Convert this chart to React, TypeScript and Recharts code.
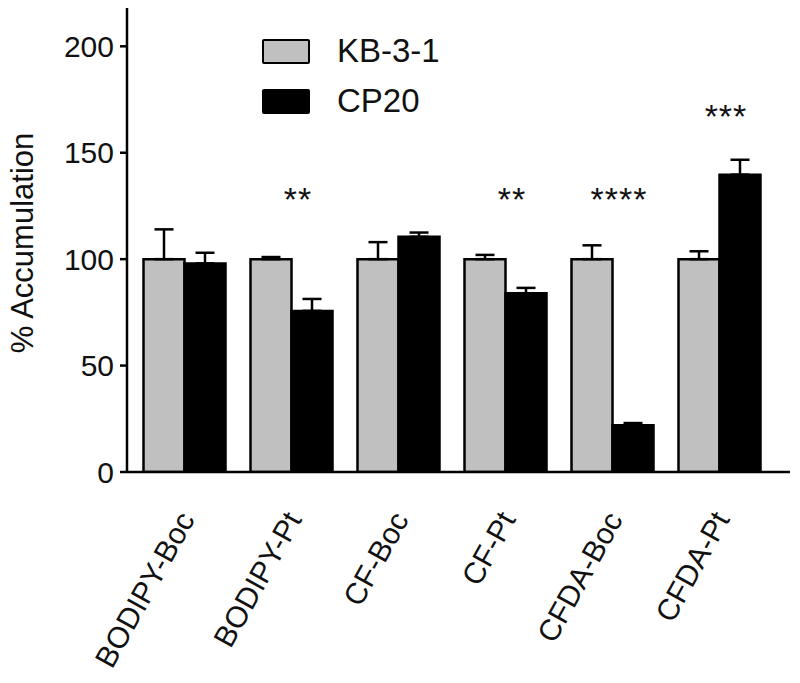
import { ComposedChart, Bar, XAxis, YAxis, ErrorBar, ReferenceDot } from 'recharts'

const probes = ['BODIPY-Boc', 'BODIPY-Pt', 'CF-Boc', 'CF-Pt', 'CFDA-Boc', 'CFDA-Pt']
const kbMean = [100, 100, 100, 100, 100, 100]
const kbErr = [14, 1, 8, 2, 6.5, 3.7]
const cpMean = [98, 75.7, 110.5, 84, 22, 139.7]
const cpErr = [5, 5.6, 2, 2.5, 1, 7]
const stars = ['', '**', '', '**', '****', '***']
const starAt = [0, 131, 0, 131, 131, 170]
const yTicks = [0, 50, 100, 150, 200]
const legendRows = [
  { label: 'KB-3-1', fill: '#c0c0c0' },
  { label: 'CP20', fill: '#000' },
]

const FONT = '"Liberation Sans", Arial, sans-serif'
const GRAY = '#c0c0c0'

const data = probes.map((name, i) => ({
  name,
  kb: kbMean[i],
  kbErr: [0, kbErr[i]],
  cp: cpMean[i],
  cpErr: [0, cpErr[i]],
}))

function XTick({ x, y, payload }: any) {
  return (
    <g transform={`translate(${x - 7},${y + 29})`}>
      <text
        transform="rotate(-61)"
        textAnchor="end"
        dy="0.71em"
        fontSize={30}
        fontFamily={FONT}
        fill="#111"
      >
        {payload.value}
      </text>
    </g>
  )
}

function LegendBox() {
  return (
    <div style={{ position: 'absolute', left: 262, top: 26, fontFamily: FONT }}>
      {legendRows.map((r) => (
        <div key={r.label} style={{ display: 'flex', alignItems: 'center', height: 50 }}>
          <div
            style={{
              width: 44,
              height: 21,
              background: r.fill,
              border: '2px solid #000',
              borderRadius: 2,
            }}
          />
          <span style={{ marginLeft: 27, fontSize: 33, color: '#111' }}>{r.label}</span>
        </div>
      ))}
    </div>
  )
}

export default function App() {
  return (
    <div style={{ margin: -8, background: '#fff', width: 800, height: 683, position: 'relative' }}>
      <ComposedChart
        width={800}
        height={683}
        data={data}
        margin={{ top: 8, right: 10, bottom: 0, left: 0 }}
        barGap={0}
      >
        <XAxis
          dataKey="name"
          height={211}
          padding={{ left: 3.5, right: 17.5 }}
          axisLine={{ stroke: '#000', strokeWidth: 2.5 }}
          tickLine={false}
          tick={<XTick />}
          interval={0}
        />
        <YAxis
          width={127}
          domain={[0, 218]}
          ticks={yTicks}
          allowDataOverflow
          axisLine={{ stroke: '#000', strokeWidth: 2.5 }}
          tickLine={{ stroke: '#000', strokeWidth: 2.5 }}
          tickSize={7}
          tickMargin={6}
          tick={{ fontSize: 30, fontFamily: FONT, fill: '#111' }}
          label={{
            content: () => (
              <text
                x={22}
                y={243}
                transform="rotate(-90 22 243)"
                textAnchor="middle"
                dominantBaseline="central"
                fontSize={31}
                fontFamily={FONT}
                fill="#111"
              >
                % Accumulation
              </text>
            ),
          }}
        />
        <Bar dataKey="kb" name="KB-3-1" fill={GRAY} stroke="#000" strokeWidth={2.5} barSize={41} isAnimationActive={false}>
          <ErrorBar dataKey="kbErr" width={9.5} stroke="#000" strokeWidth={2.5} isAnimationActive={false} />
        </Bar>
        <Bar dataKey="cp" name="CP20" fill="#000" stroke="#000" strokeWidth={2.5} barSize={41} isAnimationActive={false}>
          <ErrorBar dataKey="cpErr" width={9.5} stroke="#000" strokeWidth={2.5} isAnimationActive={false} />
        </Bar>
        {probes.map((p, i) =>
          stars[i] ? (
            <ReferenceDot
              key={p}
              x={p}
              y={starAt[i]}
              r={0}
              stroke="none"
              fill="none"
              label={{
                value: stars[i],
                position: 'center',
                dx: 7,
                dy: 6,
                fontSize: 34,
                fontFamily: FONT,
                fill: '#111',
                letterSpacing: 1,
              }}
            />
          ) : null
        )}
      </ComposedChart>
      <LegendBox />
    </div>
  )
}
